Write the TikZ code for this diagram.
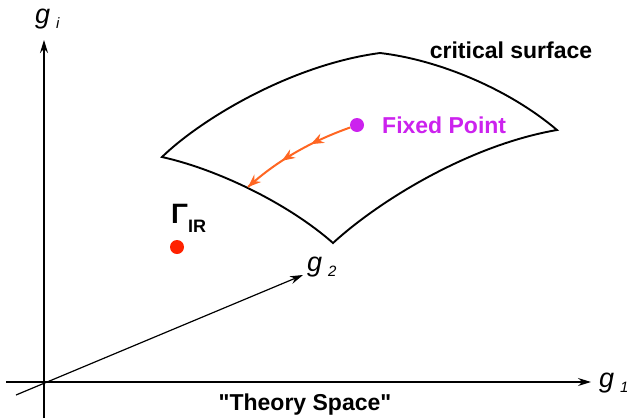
\documentclass[tikz,border=0pt]{standalone}
\usepackage{fontspec}
\setmainfont{Liberation Sans}
\usetikzlibrary{arrows.meta,positioning,decorations.markings}
\definecolor{fpviolet}{RGB}{204,34,238}
\definecolor{flowcol}{RGB}{255,102,34}
\definecolor{irred}{RGB}{255,34,0}
\newcommand{\gname}[1]{{\fontsize{27}{27}\selectfont\textit{g}}\hspace{6pt}\raisebox{-5pt}{\fontsize{15}{15}\selectfont\textit{#1}}}

\begin{document}
\begin{tikzpicture}[
    x=1pt, y=-1pt,
    >=Stealth,
    axis/.style={-{Stealth[length=13pt,width=8pt]}, line width=1.4pt, black},
    surf/.style={line width=1.9pt, black},
    dot/.style={circle, fill=#1, minimum size=14pt, inner sep=0pt},
    boldlabel/.style={font=\fontsize{23}{26}\selectfont\bfseries, color=#1, inner sep=0pt},
    gaxis/.style={inner sep=0pt, anchor=base west},
    flow/.style={draw=flowcol, line width=2pt, postaction={decorate},
        decoration={markings,
            mark=at position 0.36 with {\arrow{Stealth[length=13pt,width=10pt]}},
            mark=at position 0.64 with {\arrow{Stealth[length=13pt,width=10pt]}},
            mark=at position 1 with {\arrow{Stealth[length=13pt,width=10pt]}}}},
]
\useasboundingbox (0,0) rectangle (637,418);

% ============ AXES ============
\coordinate (origin) at (44,382);
\coordinate (ybot) at (44,418);
\coordinate (ytip) at (44,40);
\coordinate (xleft) at (6,382);
\coordinate (xtip) at (591,382);
\coordinate (ztail) at (16,395);
\coordinate (ztip) at (303,275);

\draw[axis] (ybot) -- (ytip);
\draw[axis] (xleft) -- (xtip);
\draw[axis, line width=1.2pt] (ztail) -- (ztip);

\node[gaxis] (gi) at (35,23) {\gname{i}};
\node[gaxis] (g1) at (599,387) {\gname{1}};
\node[gaxis] (g2) at (307,271) {\gname{2}};

\node[boldlabel=black] (theory) at (305,405) {\textquotedbl Theory Space\textquotedbl};

% ============ CRITICAL SURFACE ============
\coordinate (sl) at (162,157);
\coordinate (st) at (380,53);
\coordinate (sr) at (557,130);
\coordinate (sb) at (333,243);

\draw[surf] (sl) .. controls (200,120) and (290,65) .. (st)
    .. controls (440,60) and (510,90) .. (sr)
    .. controls (470,145) and (380,200) .. (sb)
    .. controls (290,205) and (220,170) .. cycle;

\node[boldlabel=black] (critlbl) at (511,50) {critical surface};

% ============ FIXED POINT AND FLOW ============
\node[dot=fpviolet] (fp) at (357,125) {};
\node[boldlabel=fpviolet, anchor=west] (fplbl) at (382,125) {Fixed Point};

\coordinate (flowend) at (248,187);
\draw[flow] (fp.200) .. controls (315,140) and (280,158) .. (flowend);

% ============ IR POINT ============
\node[dot=irred] (ir) at (177,247) {};
\node[gaxis] (irlbl) at (171,223) {\fontsize{28}{28}\selectfont\bfseries Γ\raisebox{-9pt}{\fontsize{18}{18}\selectfont IR}};

\end{tikzpicture}
\end{document}
